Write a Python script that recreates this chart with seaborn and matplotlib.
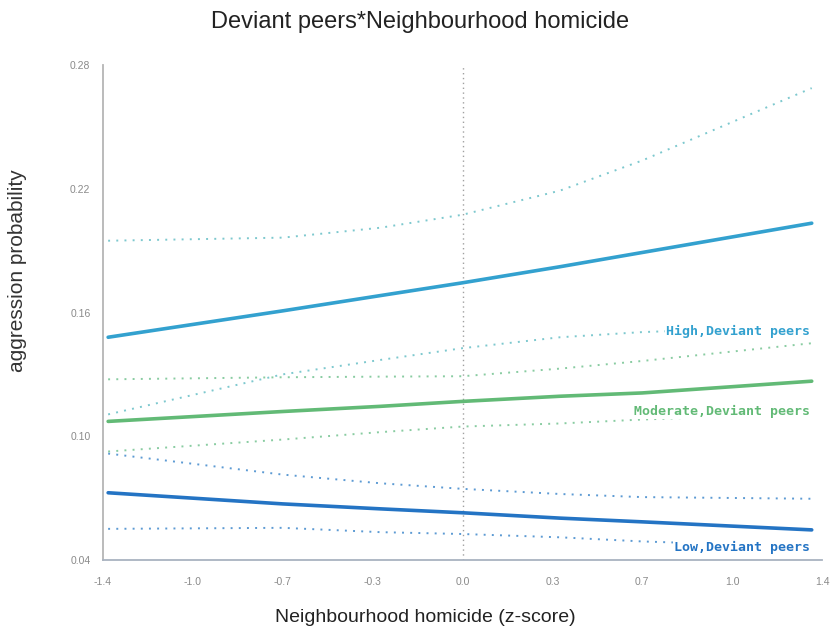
import matplotlib
matplotlib.use("Agg")
import matplotlib.pyplot as plt
import numpy as np
import pandas as pd
import seaborn as sns

# Neighbourhood homicide (z-score) positions at which predictions are reported
homicide_z = [-1.38, -0.70, -0.32, 0.0, 0.38, 0.70, 1.36]

# Predicted aggression probability with confidence bounds, by deviant-peer level
high_fit = [0.1480, 0.1608, 0.1682, 0.1744, 0.1822, 0.1891, 0.2033]
high_upper = [0.1948, 0.1963, 0.2011, 0.2074, 0.2191, 0.2337, 0.2688]
high_lower = [0.1106, 0.1300, 0.1370, 0.1427, 0.1480, 0.1505, 0.1534]

moderate_fit = [0.1072, 0.1120, 0.1145, 0.1169, 0.1194, 0.1210, 0.1267]
moderate_upper = [0.1276, 0.1286, 0.1289, 0.1291, 0.1328, 0.1365, 0.1451]
moderate_lower = [0.0926, 0.0984, 0.1020, 0.1047, 0.1062, 0.1081, 0.1111]

low_fit = [0.0726, 0.0672, 0.0648, 0.0629, 0.0603, 0.0585, 0.0546]
low_upper = [0.0916, 0.0814, 0.0772, 0.0745, 0.0720, 0.0705, 0.0697]
low_lower = [0.0551, 0.0556, 0.0535, 0.0526, 0.0510, 0.0490, 0.0463]

groups = ["High,Deviant peers", "Moderate,Deviant peers", "Low,Deviant peers"]
group_colors = {"High,Deviant peers": "#33a1cf",
                "Moderate,Deviant peers": "#62ba76",
                "Low,Deviant peers": "#2474c4"}
ci_colors = {"High,Deviant peers": "#66bfc6",
             "Moderate,Deviant peers": "#74c391",
             "Low,Deviant peers": "#4089cc"}

# Label anchor (right end, probability level) for each group
label_y = {"High,Deviant peers": 0.1510,
           "Moderate,Deviant peers": 0.1120,
           "Low,Deviant peers": 0.0460}

x_ticks = [-1.4, -1.05, -0.7, -0.35, 0.0, 0.35, 0.7, 1.05, 1.4]
x_tick_labels = ["-1.4", "-1.0", "-0.7", "-0.3", "0.0", "0.3", "0.7", "1.0", "1.4"]
y_ticks = [0.04, 0.10, 0.16, 0.22, 0.28]
y_tick_labels = ["0.04", "0.10", "0.16", "0.22", "0.28"]

series = {
    "High,Deviant peers": (high_fit, high_upper, high_lower),
    "Moderate,Deviant peers": (moderate_fit, moderate_upper, moderate_lower),
    "Low,Deviant peers": (low_fit, low_upper, low_lower),
}
rows = []
for g, (fit, up, lo) in series.items():
    for kind, vals in (("fit", fit), ("upper", up), ("lower", lo)):
        for xv, yv in zip(homicide_z, vals):
            rows.append({"z": xv, "prob": yv, "group": g, "kind": kind})
df = pd.DataFrame(rows)

sns.set_theme(style="white")
plt.rcParams["font.family"] = ["Liberation Sans", "DejaVu Sans"]

fig = plt.figure(figsize=(8.35, 6.41), dpi=100)
ax = fig.add_axes([103 / 835, 1 - 560 / 641, (822 - 103) / 835, (560 - 65) / 641])

# reference line at the mean homicide level
ax.axvline(0.0, color="#a0a0a0", linestyle=(0, (1, 2.5)), linewidth=1.0, zorder=1)

for g in groups:
    sub = df[df["group"] == g]
    for kind in ("upper", "lower"):
        sns.lineplot(data=sub[sub["kind"] == kind], x="z", y="prob",
                     color=ci_colors[g], linestyle=(0, (1, 3.2)), linewidth=1.4,
                     alpha=0.85, estimator=None, sort=True, ax=ax, zorder=2)

sns.lineplot(data=df[df["kind"] == "fit"], x="z", y="prob", hue="group",
             palette=group_colors, linewidth=2.6, estimator=None, sort=True,
             legend=False, ax=ax, zorder=3)

for g in groups:
    ax.text(1.355, label_y[g], g, color=group_colors[g], ha="right", va="center",
            fontsize=9.5, fontweight="bold", family=["DejaVu Sans Mono"],
            bbox=dict(facecolor="white", edgecolor="none", pad=1.0), zorder=4)

ax.set_xlim(-1.4, 1.4)
ax.set_ylim(0.04, 0.28)
ax.set_xticks(x_ticks)
ax.set_xticklabels(x_tick_labels)
ax.set_yticks(y_ticks)
ax.set_yticklabels(y_tick_labels)
ax.set_xlabel("")
ax.set_ylabel("")

for side in ("top", "right"):
    ax.spines[side].set_visible(False)
ax.spines["left"].set_color("#b5b5b5")
ax.spines["bottom"].set_color("#a9b3c0")
ax.spines["left"].set_linewidth(1.3)
ax.spines["bottom"].set_linewidth(1.3)

ax.tick_params(axis="x", direction="inout", length=11, width=1.1, color="#4a4a4a",
               labelsize=7.5, labelcolor="#8a8a8a", pad=7)
ax.tick_params(axis="y", direction="inout", length=14, width=1.1, color="#9a9a9a",
               labelsize=7.5, labelcolor="#8a8a8a", pad=2)

fig.text(425 / 835, 1 - 618 / 641, "Neighbourhood homicide (z-score)", ha="center",
         va="center", fontsize=14, color="#222222")
fig.text(18 / 835, 1 - 271 / 641, "aggression probability", ha="center",
         va="center", rotation=90, fontsize=15, color="#333333")
fig.text(420 / 835, 1 - 22 / 641, "Deviant peers*Neighbourhood homicide", ha="center",
         va="center", fontsize=17, color="#222222")

fig.savefig("out.png", dpi=100, facecolor="white")
